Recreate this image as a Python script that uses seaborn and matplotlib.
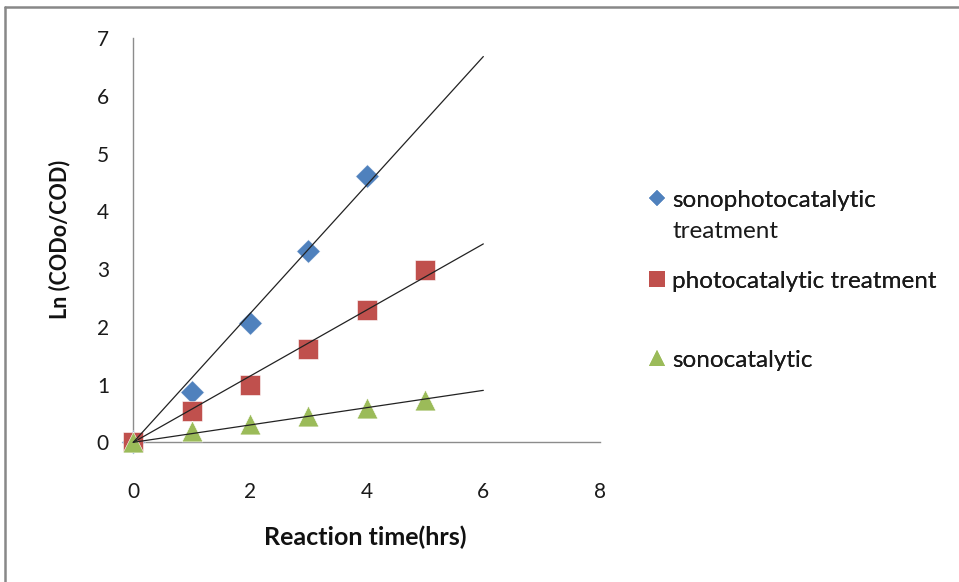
import numpy as np
import pandas as pd
import matplotlib
matplotlib.use("Agg")
import matplotlib.pyplot as plt
import seaborn as sns
from matplotlib.lines import Line2D

# Reaction time (hrs) and Ln(CODo/COD) for each treatment
time_sonophoto = [0, 1, 2, 3, 4]
ln_sonophoto = [0.0, 0.87, 2.07, 3.31, 4.62]

time_photo = [0, 1, 2, 3, 4, 5]
ln_photo = [0.0, 0.55, 0.99, 1.61, 2.30, 2.99]

time_sono = [0, 1, 2, 3, 4, 5]
ln_sono = [0.0, 0.19, 0.31, 0.46, 0.59, 0.74]

series_names = ["sonophotocatalytic", "photocatalytic treatment", "sonocatalytic"]
name_continuation = "treatment"
series_colors = ["#4F81BD", "#C0504D", "#9BBB59"]
series_markers = ["D", "s", "^"]
marker_sizes = [12, 14, 15]
legend_marker_sizes = [8.5, 11, 12]
x_ticks = [0, 2, 4, 6, 8]
y_ticks = [0, 1, 2, 3, 4, 5, 6, 7]
trend_end = 6

sns.set_theme(style="white")
plt.rcParams["font.family"] = ["Lato", "DejaVu Sans"]

W, H = 959, 582
fig = plt.figure(figsize=(W / 100, H / 100), dpi=100)
ax = fig.add_axes([133.3 / W, 1 - 442.3 / H, (600 - 133.3) / W, (442.3 - 38.3) / H])

data = [(time_sonophoto, ln_sonophoto), (time_photo, ln_photo), (time_sono, ln_sono)]

for (t, v), col, mk, ms in zip(data, series_colors, series_markers, marker_sizes):
    df = pd.DataFrame({"t": t, "v": v})
    # linear trendline forced through the origin
    tt, vv = np.array(t, float), np.array(v, float)
    slope = np.sum(tt * vv) / np.sum(tt ** 2)
    tl = pd.DataFrame({"t": [0, trend_end], "v": [0, slope * trend_end]})
    sns.scatterplot(data=df, x="t", y="v", ax=ax, marker=mk, color=col,
                    s=(ms ** 2), edgecolor="white", linewidth=0.4, zorder=3, legend=False)
    sns.lineplot(data=tl, x="t", y="v", ax=ax, color="#222222", linewidth=0.9, zorder=4, legend=False)

ax.set_xlim(0, 8)
ax.set_ylim(0, 7)
ax.set_xticks(x_ticks)
ax.set_yticks(y_ticks)
ax.set_xticklabels([str(v) for v in x_ticks])
ax.set_yticklabels([str(v) for v in y_ticks])
for s in ["top", "right"]:
    ax.spines[s].set_visible(False)
for s in ["left", "bottom"]:
    ax.spines[s].set_color("#8C8C8C")
    ax.spines[s].set_linewidth(1.0)
ax.tick_params(axis="both", which="major", direction="out", length=5.5, width=1.0,
               color="#8C8C8C", labelsize=15, labelcolor="#1a1a1a")
ax.tick_params(axis="y", pad=12)
ax.tick_params(axis="x", pad=23)
ax.grid(False)
for coll in ax.collections:
    coll.set_clip_on(False)
for ln in ax.lines:
    ln.set_clip_on(False)

ax.set_xlabel("")
ax.set_ylabel("")
fig.text(365 / W, 1 - 537 / H, "Reaction time(hrs)", ha="center", va="center",
         fontsize=18, fontweight="bold", color="#111111")
fig.text(60 / W, 1 - 239 / H, "Ln (CODo/COD)", ha="center", va="center",
         rotation=90, fontsize=15.5, fontweight="bold", color="#111111")

# legend: one entry per block, stacked at the right of the plot
legend_fs = 17.5
legend_y = [200, 281, 360]
legends = []
for name, col, mk, lms, yy in zip(series_names, series_colors, series_markers,
                                  legend_marker_sizes, legend_y):
    h = Line2D([], [], linestyle="none", marker=mk, color=col,
               markersize=lms, markeredgewidth=0)
    leg = fig.legend([h], [name], loc="center left",
                     bbox_to_anchor=(648 / W, 1 - yy / H), frameon=False,
                     fontsize=legend_fs, handlelength=0.7, handletextpad=0.3,
                     borderaxespad=0, borderpad=0)
    for txt in leg.get_texts():
        txt.set_color("#1a1a1a")
    fig.add_artist(leg)
    legends.append(leg)

# second line of the first legend label, aligned with its text
fig.canvas.draw()
first_txt = legends[0].get_texts()[0]
bb = first_txt.get_window_extent()
x_left = bb.x0 / W
fig.text(x_left, 1 - 232 / H, name_continuation, ha="left", va="center",
         fontsize=legend_fs, color="#1a1a1a")

# outer chart frame
fig.add_artist(Line2D([4.5 / W, 4.5 / W], [0, 1 - 7 / H], transform=fig.transFigure,
                      color="#888888", linewidth=1.8))
fig.add_artist(Line2D([4.5 / W, 1], [1 - 7 / H, 1 - 7 / H], transform=fig.transFigure,
                      color="#888888", linewidth=1.8))

fig.savefig("out.png", dpi=100, facecolor="white")
